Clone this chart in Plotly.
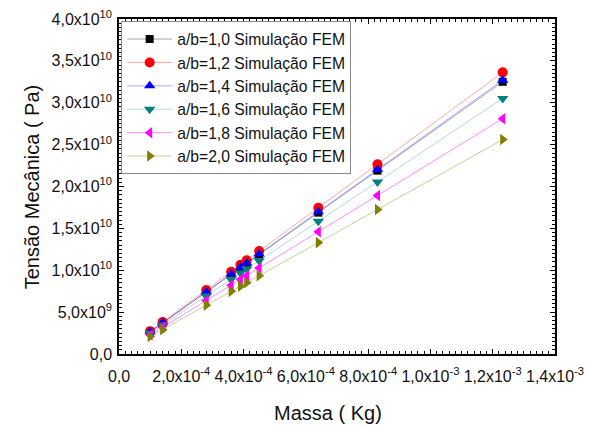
import plotly.graph_objects as go

massa = [1.0e-4, 1.4e-4, 2.8e-4, 3.6e-4, 3.9e-4, 4.1e-4, 4.5e-4, 6.4e-4, 8.3e-4, 1.232e-3]

ab_10 = [2.64e9, 3.69e9, 7.39e9, 9.50e9, 1.029e10, 1.082e10, 1.187e10, 1.688e10, 2.190e10, 3.25e10]
ab_12 = [2.73e9, 3.82e9, 7.64e9, 9.83e9, 1.065e10, 1.119e10, 1.229e10, 1.747e10, 2.266e10, 3.363e10]
ab_14 = [2.65e9, 3.72e9, 7.43e9, 9.55e9, 1.035e10, 1.088e10, 1.194e10, 1.699e10, 2.203e10, 3.27e10]
ab_16 = [2.48e9, 3.47e9, 6.93e9, 8.91e9, 9.66e9, 1.015e10, 1.114e10, 1.585e10, 2.055e10, 3.05e10]
ab_18 = [2.28e9, 3.19e9, 6.39e9, 8.21e9, 8.90e9, 9.35e9, 1.026e10, 1.460e10, 1.893e10, 2.81e10]
ab_20 = [2.08e9, 2.91e9, 5.82e9, 7.48e9, 8.10e9, 8.52e9, 9.35e9, 1.330e10, 1.725e10, 2.56e10]

names = ["a/b=1,0 Simulação FEM", "a/b=1,2 Simulação FEM", "a/b=1,4 Simulação FEM",
         "a/b=1,6 Simulação FEM", "a/b=1,8 Simulação FEM", "a/b=2,0 Simulação FEM"]
series = [ab_10, ab_12, ab_14, ab_16, ab_18, ab_20]
marker_colors = ["#000000", "#ff0000", "#0000ff", "#008080", "#ff00ff", "#808000"]
line_colors = ["rgba(0,0,0,0.35)", "rgba(255,0,0,0.35)", "rgba(0,0,255,0.35)",
               "rgba(0,128,128,0.3)", "rgba(255,0,255,0.45)", "rgba(128,128,0,0.4)"]
symbols = ["square", "circle", "triangle-up", "triangle-down", "triangle-left", "triangle-right"]
sizes = [8, 10, 10, 10, 10, 10]

y_tickvals = [0, 5e9, 1e10, 1.5e10, 2e10, 2.5e10, 3e10, 3.5e10, 4e10]
y_ticktext = ["0,0", "5,0x10<sup>9</sup>", "1,0x10<sup>10</sup>", "1,5x10<sup>10</sup>",
              "2,0x10<sup>10</sup>", "2,5x10<sup>10</sup>", "3,0x10<sup>10</sup>",
              "3,5x10<sup>10</sup>", "4,0x10<sup>10</sup>"]
x_tickvals = [0, 2e-4, 4e-4, 6e-4, 8e-4, 1e-3, 1.2e-3, 1.4e-3]
x_ticktext = ["0,0", "2,0x10<sup>-4</sup>", "4,0x10<sup>-4</sup>", "6,0x10<sup>-4</sup>",
              "8,0x10<sup>-4</sup>", "1,0x10<sup>-3</sup>", "1,2x10<sup>-3</sup>",
              "1,4x10<sup>-3</sup>"]

FONT = "Liberation Sans, Arial, sans-serif"

fig = go.Figure()
for nm, ys, mc, lc, sym, sz in zip(names, series, marker_colors, line_colors, symbols, sizes):
    fig.add_trace(go.Scatter(
        x=massa, y=ys, name=nm, mode="lines+markers",
        line=dict(color=lc, width=1),
        marker=dict(color=mc, symbol=sym, size=sz, line=dict(width=0)),
    ))

axis_common = dict(
    showline=True, linecolor="black", linewidth=1.5, mirror="ticks",
    ticks="inside", ticklen=5, tickwidth=1.2, tickcolor="black",
    showgrid=False, zeroline=False, automargin=False,
    tickfont=dict(family=FONT, size=16, color="#111"),
)

fig.update_xaxes(range=[0, 1.4e-3], tickvals=x_tickvals, ticktext=x_ticktext,
                 ticklabelstandoff=7,
                 minor=dict(dtick=2e-5, tick0=0, ticks="inside", ticklen=3, tickcolor="black", tickwidth=1),
                 **axis_common)
fig.update_yaxes(range=[0, 4e10], tickvals=y_tickvals, ticktext=y_ticktext,
                 ticklabelstandoff=2,
                 minor=dict(dtick=5e8, tick0=0, ticks="inside", ticklen=3, tickcolor="black", tickwidth=1),
                 **axis_common)

fig.add_annotation(text="Massa ( Kg)", xref="paper", yref="paper", x=0.48, y=-0.175,
                   xanchor="center", yanchor="middle", showarrow=False,
                   font=dict(family=FONT, size=20, color="#111"))
fig.add_annotation(text="Tensão Mecânica ( Pa)", xref="paper", yref="paper", x=-0.2, y=0.5,
                   xanchor="center", yanchor="middle", showarrow=False, textangle=-90,
                   font=dict(family=FONT, size=20, color="#111"))

fig.update_layout(
    width=589, height=428,
    margin=dict(l=119, r=34, t=19, b=74),
    plot_bgcolor="white", paper_bgcolor="white",
    legend=dict(x=0.005, y=0.993, xanchor="left", yanchor="top",
                bordercolor="#888", borderwidth=1, bgcolor="white",
                font=dict(family=FONT, size=15.7, color="#111"),
                itemwidth=45, tracegroupgap=0),
    showlegend=True,
)

fig.write_html("out.html")
